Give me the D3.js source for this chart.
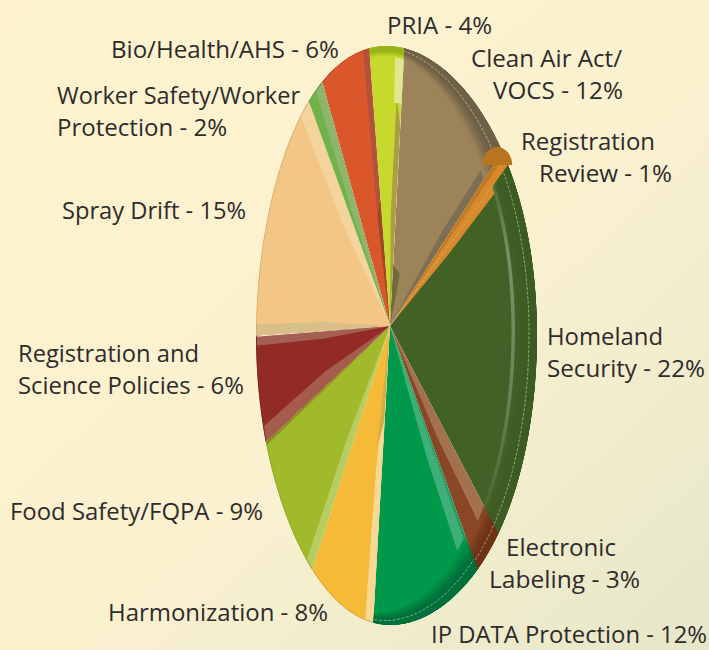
<!DOCTYPE html>
<html>
<head>
<meta charset="utf-8">
<script src="https://cdnjs.cloudflare.com/ajax/libs/d3/7.8.5/d3.min.js"></script>
<style>
  html, body { margin: 0; padding: 0; background: #fdf2cd; }
  svg { display: block; }
  text { font-family: "Open Sans", Lato, sans-serif; font-size: 24px; fill: #2f2b2c; }
</style>
</head>
<body>
<div id="vis"></div>
<script>
const WIDTH = 709;
const HEIGHT = 650;

// valores, en sentido horario desde arriba
const CATEGORIAS = ["PRIA", "Clean Air Act/VOCS", "Registration Review", "Homeland Security",
  "Electronic Labeling", "IP DATA Protection", "Harmonization", "Food Safety/FQPA",
  "Registration and Science Policies", "Spray Drift", "Worker Safety/Worker Protection", "Bio/Health/AHS"];
const VALORES = [4, 12, 1, 22, 3, 12, 8, 9, 6, 15, 2, 6];

const COLORES = ["#c6d92c", "#9c835a", "#d9892a", "#416126", "#8a4725", "#00984a",
  "#f5ba37", "#a0ba2c", "#922a25", "#f4c685", "#72b24b", "#d9572a"];
const COLORES_BORDE = ["#9ab31c", "#6f6146", "#b06c1c", "#3c5c22", "#6f3315", "#00703a",
  "#dca22c", "#8ea526", "#7d2420", "#d9ac6c", "#5f9a3c", "#c04a22"];

const ETIQUETAS = [
  ["PRIA - 4%"], ["Clean Air Act/", "VOCS - 12%"], ["Registration", "Review - 1%"],
  ["Homeland", "Security - 22%"], ["Electronic", "Labeling - 3%"], ["IP DATA Protection - 12%"],
  ["Harmonization - 8%"], ["Food Safety/FQPA - 9%"], ["Registration and", "Science Policies - 6%"],
  ["Spray Drift - 15%"], ["Worker Safety/Worker", "Protection - 2%"], ["Bio/Health/AHS - 6%"]
];
// [x, baseline] de cada renglon
const POS_ETIQUETAS = [
  [[387, 34]], [[471, 67], [493, 99]], [[521, 150], [539, 182]],
  [[547, 345], [547, 377]], [[506, 556], [489, 588]], [[431, 642.9]],
  [[108, 621]], [[10, 520]], [[18, 362], [18, 394]],
  [[62, 219]], [[57, 104], [57, 136]], [[111, 58]]
];
// ancho de cada renglon en el original
const ANCHOS_ETIQUETAS = [
  [105], [151, 130], [134, 133], [116, 158], [110, 151], [276],
  [220], [253], [181, 226], [184], [243, 170], [228]
];

// facetas biseladas: slice, lado (s inicio / e fin), color y contorno como [grados desde el lado, alcance]
const FACETAS = [
  {i: 0, lado: "e", color: "#ab9f45", puntos: [[5, 0.4], [2.5, 0.82], [0, 0.72]]},
  {i: 0, lado: "e", color: "#dfe88e", libre: true, puntos: [[3.7, 0.8], [3.7, 1.02], [0, 1.02], [0, 0.8]]},
  {i: 1, lado: "e", color: "#7d6f55", puntos: [[4, 0.5], [2.2, 1.02], [0, 1.02]]},
  {i: 1, lado: "s", color: "#6e6c3a", puntos: [[0, 0.22], [14, 0.2]]},
  {i: 2, lado: "s", color: "#bf7a24", puntos: [[0, 1.02], [1.4, 1.02]]},
  {i: 3, lado: "s", color: "#d9892a", puntos: [[0, 1.02], [1.6, 1.02], [2.6, 0.5]]},
  {i: 4, lado: "s", color: "#a4714f", puntos: [[0, 1.02], [4, 1.02], [6, 0.5]]},
  {i: 5, lado: "s", color: "#3fae78", puntos: [[0, 1.02], [4.5, 1.02], [6.5, 0.5]]},
  {i: 5, lado: "s", color: "#1f9c62", puntos: [[0, 1.02], [1, 1.02]]},
  {i: 6, lado: "s", color: "#f8d894", puntos: [[0, 1.02], [3.4, 1.02], [5, 0.5]]},
  {i: 6, lado: "s", color: "#cfae45", puntos: [[0.5, 0.32], [6, 0.42]]},
  {i: 7, lado: "s", color: "#b6cd62", puntos: [[0, 1.02], [3, 1.02], [5, 0.5]]},
  {i: 7, lado: "e", color: "#8a8f20", puntos: [[0.7, 1.02], [0, 1.02]]},
  {i: 8, lado: "s", color: "#a65b4f", puntos: [[0, 1.02], [3.2, 1.02], [5.5, 0.5]]},
  {i: 8, lado: "e", color: "#a45f52", puntos: [[3.2, 0.5], [2, 1.02], [0, 1.02]]},
  {i: 8, lado: "e", color: "#fbeecb", puntos: [[0.25, 1.02], [0, 1.02]]},
  {i: 9, lado: "s", color: "#d8bf8a", puntos: [[0, 1.02], [2.2, 1.02], [3.5, 0.5]]},
  {i: 9, lado: "e", color: "#f2d49c", puntos: [[7.2, 0.5], [4.5, 1.02], [0, 1.02]]},
  {i: 10, lado: "e", color: "#8db56b", puntos: [[5, 0.5], [3.2, 1.02], [0, 1.02]]},
  {i: 11, lado: "e", color: "#b3523a", puntos: [[4, 0.5], [2.5, 1.02], [0, 1.02]]},
  {i: 11, lado: "e", color: "#9a4a22", puntos: [[4.5, 0.4], [0, 0.45]]}
];

// borde 3D: slice -> elipse interna [xmin, xmax, ymin, ymax]
const BORDES = {
  0: [256, 537, 57, 625],
  1: [255, 505, 50, 612],
  3: [256, 512, 50, 612],
  4: [256, 512, 50, 612],
  5: [256, 506, 50, 611]
};

const SVG = d3.select("#vis").append("svg").attr("width", WIDTH).attr("height", HEIGHT);

const defs = SVG.append("defs");
const fondo = defs.append("linearGradient").attr("id", "fondo")
  .attr("x1", "0%").attr("y1", "0%").attr("x2", "100%").attr("y2", "100%");
fondo.append("stop").attr("offset", "0%").attr("stop-color", "#fef3ce");
fondo.append("stop").attr("offset", "55%").attr("stop-color", "#faf1cf");
fondo.append("stop").attr("offset", "100%").attr("stop-color", "#e5e7c8");
SVG.append("rect").attr("width", WIDTH).attr("height", HEIGHT).attr("fill", "url(#fondo)");

// brillo de Homeland, se apaga hacia los extremos
const brillo = defs.append("linearGradient").attr("id", "brillo")
  .attr("gradientUnits", "userSpaceOnUse").attr("x1", 0).attr("y1", 165).attr("x2", 0).attr("y2", 530);
[[0, 0.1], [0.25, 0.9], [0.55, 0.75], [0.85, 0.3], [1, 0]].forEach(s => {
  brillo.append("stop").attr("offset", s[0]).attr("stop-color", "#7d9570").attr("stop-opacity", s[1]);
});

// elipse proyectada: el pastel es un circulo visto de costado, con la punta algo corrida
const externa = [256, 537, 46, 625];
const VERTICE = [390, 326];

const pie = d3.pie().sort(null).value(d => d)
  .startAngle(-Math.PI * 0.04).endAngle(Math.PI * 1.96);
const arcos = pie(VALORES);

const rad = g => g * Math.PI / 180;

function enElipse(b, a) {
  const ex = d3.scaleLinear().domain([-1, 1]).range([b[0], b[1]]);
  const ey = d3.scaleLinear().domain([-1, 1]).range([b[2], b[3]]);
  const c = Math.cos(a);
  const corrimiento = c > 0 ? -10 * Math.pow(c, 3) : -6 * Math.pow(-c, 6);
  return [ex(Math.sin(a)) + corrimiento, ey(-c)];
}
const borde = a => enElipse(externa, a);
const linea = d3.line();

function cuna(a0, a1) {
  const n = Math.max(2, Math.ceil((a1 - a0) / rad(1)));
  const pts = d3.range(n + 1).map(k => borde(a0 + (a1 - a0) * k / n));
  return linea([VERTICE, ...pts]) + "Z";
}

function elipsePath(b) {
  return linea(d3.range(0, 360, 2).map(g => enElipse(b, rad(g)))) + "Z";
}

const mezcla = (a, b, t) => a.map((v, k) => v + (b[k] - v) * t);

const G = SVG.selectAll("g.slice").data(arcos).join("g").attr("class", "slice");

G.append("clipPath").attr("id", (d, i) => "clip" + i)
  .append("path").attr("d", d => cuna(d.startAngle, d.endAngle));

const caras = G.append("g").attr("clip-path", (d, i) => `url(#clip${i})`);

caras.append("path")
  .attr("d", d => cuna(d.startAngle, d.endAngle))
  .attr("fill", (d, i) => COLORES[i]);

// facetas claras a los costados de cada porcion
FACETAS.forEach(f => {
  const d = arcos[f.i];
  const punto = ([grados, r]) => {
    const a = f.lado === "s" ? d.startAngle + rad(grados) : d.endAngle - rad(grados);
    const p = borde(a);
    return [VERTICE[0] + (p[0] - VERTICE[0]) * r, VERTICE[1] + (p[1] - VERTICE[1]) * r];
  };
  const pts = f.puntos.map(punto);
  d3.select(caras.nodes()[f.i]).append("path")
    .attr("d", linea(f.libre ? pts : [VERTICE, ...pts]) + "Z")
    .attr("fill", f.color);
});

// borde 3D con degradado hacia afuera
caras.each(function (d, i) {
  const g = d3.select(this);
  const interna = BORDES[i];
  if (!interna) {
    g.append("path").attr("d", elipsePath(externa))
      .attr("fill", "none").attr("stroke", COLORES_BORDE[i]).attr("stroke-width", 1.6);
    return;
  }
  const color = d3.interpolateRgb(COLORES[i], COLORES_BORDE[i]);
  d3.range(0, 8).forEach(k => {
    const t = k / 8;
    g.append("path")
      .attr("d", elipsePath(externa) + elipsePath(mezcla(interna, externa, t)))
      .attr("fill-rule", "evenodd")
      .attr("fill", color(Math.min(1, t * 2.2)));
  });
  if (i !== 0) {
    g.append("path").attr("d", elipsePath(mezcla(interna, externa, 0.68)))
      .attr("fill", "none").attr("stroke", "#ffffff").attr("stroke-opacity", 0.55)
      .attr("stroke-width", 0.8).attr("stroke-dasharray", "3,1.5");
  }
  if (i === 3) {
    g.append("path").attr("d", elipsePath(mezcla(interna, externa, 0.05)))
      .attr("fill", "none").attr("stroke", "url(#brillo)").attr("stroke-width", 3.5);
  }
});

// remate de Registration Review
const medio = (arcos[2].startAngle + arcos[2].endAngle) / 2;
const remate = borde(medio);
SVG.append("path")
  .attr("d", `M${remate[0] - 23},${remate[1] + 7}A15,18 0 0 1 ${remate[0] + 7},${remate[1] + 7}Z`)
  .attr("fill", "#b8741f");

// etiquetas
ETIQUETAS.forEach((lineas, i) => {
  lineas.forEach((texto, j) => {
    SVG.append("text")
      .attr("x", POS_ETIQUETAS[i][j][0])
      .attr("y", POS_ETIQUETAS[i][j][1])
      .attr("textLength", ANCHOS_ETIQUETAS[i][j])
      .attr("lengthAdjust", "spacingAndGlyphs")
      .text(texto);
  });
});
</script>
</body>
</html>
